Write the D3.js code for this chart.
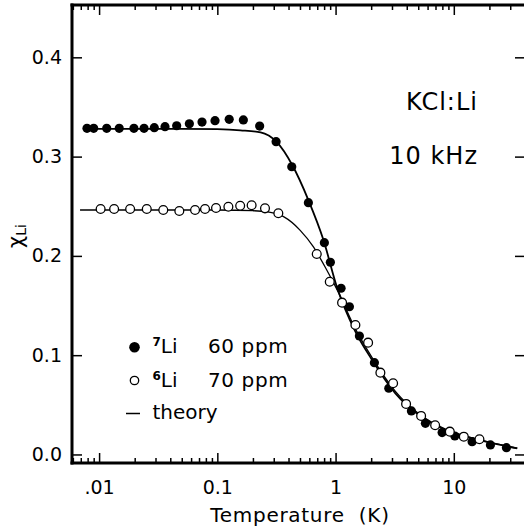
<!DOCTYPE html>
<html>
<head>
<meta charset="utf-8">
<script src="https://cdn.jsdelivr.net/npm/d3@7"></script>
<style>
  html, body { margin: 0; padding: 0; background: #fff; }
  svg { display: block; font-family: "DejaVu Sans", sans-serif; }
</style>
</head>
<body>
<svg id="chart" width="524" height="531"></svg>
<script>
// ---- data ----
// 7Li 60 ppm (filled circles)
const li7T   = [0.0079, 0.0090, 0.0116, 0.0148, 0.0197, 0.0240, 0.0293, 0.0361, 0.0453, 0.0580, 0.0742, 0.0956, 0.126, 0.166, 0.228, 0.314, 0.426, 0.589, 0.804, 0.904, 1.113, 1.309, 1.590, 2.130, 2.819, 4.378, 5.751, 7.962, 10.20, 14.28, 20.40, 27.86];
const li7Chi = [0.3285, 0.3285, 0.3285, 0.3285, 0.3285, 0.3285, 0.3291, 0.3301, 0.3311, 0.3331, 0.3348, 0.3362, 0.3376, 0.3369, 0.3308, 0.315, 0.2898, 0.2536, 0.2133, 0.1936, 0.1674, 0.1488, 0.1193, 0.0924, 0.0667, 0.0438, 0.0314, 0.0220, 0.0186, 0.0129, 0.0096, 0.0068];
// 6Li 70 ppm (open circles)
const li6T   = [0.0103, 0.0134, 0.0183, 0.0253, 0.0349, 0.0477, 0.0648, 0.0787, 0.0975, 0.124, 0.156, 0.195, 0.253, 0.328, 0.693, 0.893, 1.135, 1.471, 1.884, 2.393, 3.066, 3.948, 5.290, 6.95, 9.25, 12.15, 16.47];
const li6Chi = [0.2472, 0.2472, 0.2472, 0.2472, 0.2462, 0.2452, 0.2462, 0.2472, 0.2482, 0.2495, 0.2505, 0.2510, 0.2479, 0.2429, 0.2019, 0.1740, 0.1529, 0.1304, 0.1126, 0.0824, 0.0717, 0.0509, 0.0388, 0.0294, 0.0230, 0.0179, 0.0153];
// theory curves (sampled from the drawn lines)
const theory7T   = [0.0076, 0.02, 0.05, 0.1, 0.157, 0.232, 0.316, 0.43, 0.59, 0.79, 1.024, 1.471, 2.036, 3.206, 5.06, 8.49, 16.27, 34.4];
const theory7Chi = [0.3280, 0.3280, 0.3280, 0.3276, 0.3265, 0.3245, 0.3150, 0.2915, 0.2560, 0.2160, 0.1690, 0.1237, 0.0952, 0.0616, 0.0398, 0.0247, 0.0146, 0.0062];
const theory6T   = [0.0069, 0.02, 0.05, 0.1, 0.2, 0.26, 0.363, 0.50, 0.65, 0.84, 1.05, 1.471, 2.036, 3.206, 5.06, 8.49, 16.27, 34.4];
const theory6Chi = [0.2462, 0.2462, 0.2462, 0.2462, 0.2455, 0.2445, 0.2395, 0.2260, 0.2090, 0.1860, 0.1640, 0.1265, 0.0975, 0.0635, 0.0410, 0.0255, 0.0150, 0.0064];

const xMajorTicks = [0.01, 0.1, 1, 10];
const xTickLabels = [".01", "0.1", "1", "10"];
const yTicks = [0, 0.1, 0.2, 0.3, 0.4];
const yTickLabels = ["0.0", "0.1", "0.2", "0.3", "0.4"];
const legendLabels = [
  {sup: "7", name: "Li", conc: "60 ppm"},
  {sup: "6", name: "Li", conc: "70 ppm"}
];

// ---- layout ----
const L = 72, R = 525, T = 5, B = 463;
const svg = d3.select("#chart");

const x = d3.scaleLog().domain([0.0059, 40]).range([L, R]);
const y = d3.scaleLinear().domain([-0.0086, 0.4527]).range([B, T]);

const minorX = x.ticks().filter(v => !xMajorTicks.some(m => Math.abs(m - v) / m < 1e-6));

function styleAxis(g, sw) {
  g.select(".domain").remove();
  g.selectAll(".tick line").attr("stroke", "#000").attr("stroke-width", sw);
}

// bottom axis
svg.append("g").attr("transform", `translate(0,${B})`)
  .call(d3.axisBottom(x).tickValues(minorX).tickSize(-5).tickFormat(""))
  .call(g => styleAxis(g, 1.5));
svg.append("g").attr("transform", `translate(0,${B})`)
  .call(d3.axisBottom(x).tickValues(xMajorTicks).tickSize(-10).tickPadding(17.5)
        .tickFormat((d, i) => xTickLabels[i]))
  .call(g => styleAxis(g, 1.5))
  .call(g => g.selectAll("text").attr("fill", "#000")
        .style("font-size", "19px").style("font-family", "DejaVu Sans"));

// top axis
svg.append("g").attr("transform", `translate(0,${T})`)
  .call(d3.axisTop(x).tickValues(minorX).tickSize(-5).tickFormat(""))
  .call(g => styleAxis(g, 1.5));
svg.append("g").attr("transform", `translate(0,${T})`)
  .call(d3.axisTop(x).tickValues(xMajorTicks).tickSize(-10).tickFormat(""))
  .call(g => styleAxis(g, 1.5));

// left axis
svg.append("g").attr("transform", `translate(${L},0)`)
  .call(d3.axisLeft(y).tickValues(yTicks).tickSize(-10).tickPadding(10)
        .tickFormat((d, i) => yTickLabels[i]))
  .call(g => styleAxis(g, 1.5))
  .call(g => g.selectAll("text").attr("fill", "#000")
        .style("font-size", "19px").style("font-family", "DejaVu Sans"));

// right axis
svg.append("g").attr("transform", `translate(${R},0)`)
  .call(d3.axisRight(y).tickValues(yTicks).tickSize(-10).tickFormat(""))
  .call(g => styleAxis(g, 1.5));

// frame lines
svg.append("line").attr("x1", L).attr("x2", L).attr("y1", T - 1.5).attr("y2", B + 1.5)
  .attr("stroke", "#000").attr("stroke-width", 3);
svg.append("line").attr("x1", L - 1.5).attr("x2", R).attr("y1", B).attr("y2", B)
  .attr("stroke", "#000").attr("stroke-width", 3);
svg.append("line").attr("x1", L - 1.5).attr("x2", R).attr("y1", T).attr("y2", T)
  .attr("stroke", "#000").attr("stroke-width", 3);

// theory curves
const line = d3.line().x(d => x(d[0])).y(d => y(d[1])).curve(d3.curveMonotoneX);
svg.append("path").datum(theory6T.map((t, i) => [t, theory6Chi[i]]))
  .attr("d", line).attr("fill", "none").attr("stroke", "#000").attr("stroke-width", 1.3);
svg.append("path").datum(theory7T.map((t, i) => [t, theory7Chi[i]]))
  .attr("d", line).attr("fill", "none").attr("stroke", "#000").attr("stroke-width", 1.8);

// data points
svg.append("g").selectAll("circle").data(li7T.map((t, i) => [t, li7Chi[i]])).join("circle")
  .attr("cx", d => x(d[0])).attr("cy", d => y(d[1])).attr("r", 4.6).attr("fill", "#000");
svg.append("g").selectAll("circle").data(li6T.map((t, i) => [t, li6Chi[i]])).join("circle")
  .attr("cx", d => x(d[0])).attr("cy", d => y(d[1])).attr("r", 4.4)
  .attr("fill", "#fff").attr("stroke", "#000").attr("stroke-width", 1.3);

// annotations
svg.append("text").attr("x", 478).attr("y", 110).attr("text-anchor", "end")
  .style("font-size", "24px").style("letter-spacing", "1px").text("KCl:Li");
svg.append("text").attr("x", 478).attr("y", 163.5).attr("text-anchor", "end")
  .style("font-size", "24px").style("letter-spacing", "1px").text("10 kHz");

// axis titles
svg.append("text").attr("x", 300).attr("y", 521.5).attr("text-anchor", "middle")
  .style("font-size", "20px").style("letter-spacing", "0.7px").style("white-space", "pre")
  .text("Temperature  (K)");
const yl = svg.append("text").attr("transform", "translate(23,248) rotate(-90)")
  .attr("text-anchor", "start");
yl.append("tspan").style("font-size", "21px").text("χ");
yl.append("tspan").style("font-size", "14px").attr("dy", 3).text("Li");

// legend
const leg = svg.append("g");
const rowsY = [352.5, 386.5];
leg.append("circle").attr("cx", 134.5).attr("cy", 347.2).attr("r", 5.3).attr("fill", "#000");
leg.append("circle").attr("cx", 134.5).attr("cy", 380.5).attr("r", 4.2)
  .attr("fill", "#fff").attr("stroke", "#000").attr("stroke-width", 1.3);
legendLabels.forEach((d, i) => {
  const t = leg.append("text").attr("x", 152.5).attr("y", rowsY[i]).style("font-size", "20px");
  t.append("tspan").style("font-size", "12px").style("font-weight", "bold").attr("dy", -7).text(d.sup);
  t.append("tspan").attr("dy", 7).text(d.name);
  leg.append("text").attr("x", 208).attr("y", rowsY[i]).style("font-size", "20px")
    .style("letter-spacing", "0.6px").text(d.conc);
});
leg.append("line").attr("x1", 126).attr("x2", 140).attr("y1", 413.5).attr("y2", 413.5)
  .attr("stroke", "#000").attr("stroke-width", 1.5);
leg.append("text").attr("x", 152.5).attr("y", 418.5).style("font-size", "20px").text("theory");
</script>
</body>
</html>
